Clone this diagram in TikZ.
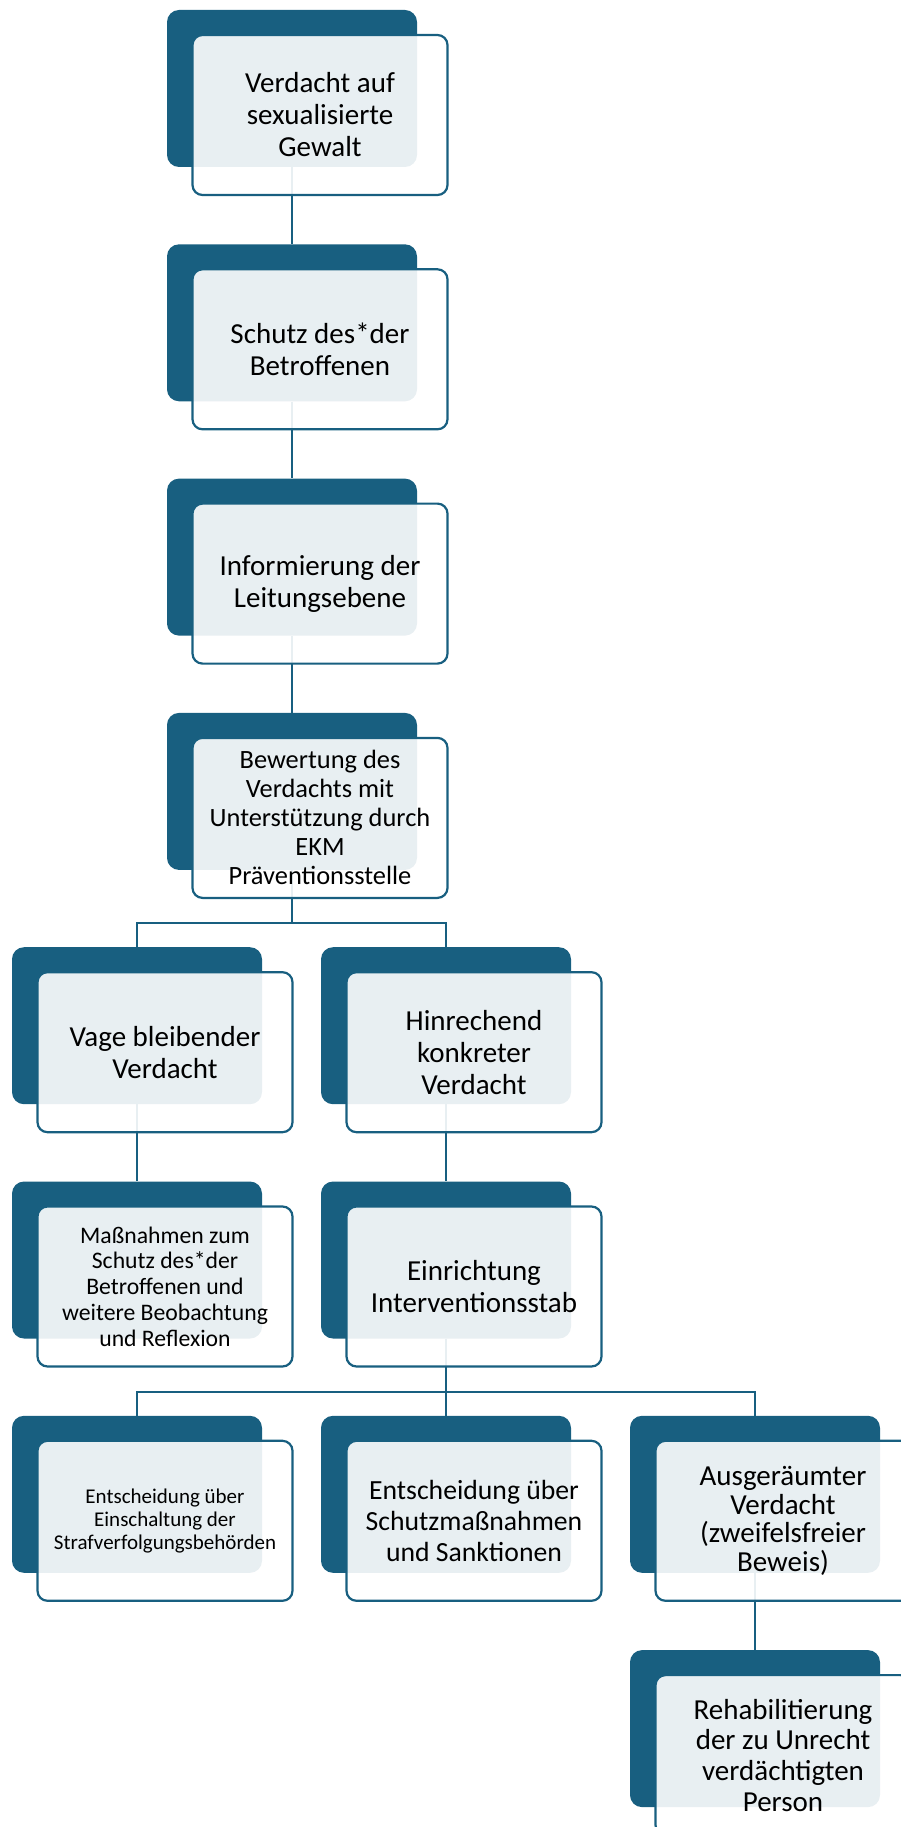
\documentclass[tikz,border=0pt]{standalone}
\usepackage{fontspec}
\setmainfont{Carlito}
\usetikzlibrary{calc,backgrounds}
\definecolor{ekmblue}{RGB}{24,95,128}

\begin{document}
\begin{tikzpicture}[x=1pt, y=-1pt,
    back/.style={rectangle, rounded corners=12pt, fill=ekmblue, inner sep=0pt,
      minimum width=250pt, minimum height=157pt},
    front/.style={rectangle, rounded corners=10pt, draw=ekmblue, line width=2.2pt,
      fill=white, fill opacity=0.9, text opacity=1, inner sep=0pt,
      minimum width=255pt, minimum height=160pt, align=center,
      font=\fontsize{29}{32}\selectfont},
    link/.style={draw=ekmblue, line width=2pt}]
  \useasboundingbox (0,0) rectangle (900,1827);

  % Hauptstrang
  \node[back] (verdacht) at (292,88.5) {};
  \node[front] (verdachtT) at ([shift={(28,26.5)}]verdacht.center) {Verdacht auf\\sexualisierte\\Gewalt};
  \node[back] (schutz) at (292,322.8) {};
  \node[front] (schutzT) at ([shift={(28,26.5)}]schutz.center) {Schutz des*der\\Betroffenen};
  \node[back] (info) at (292,557.1) {};
  \node[front] (infoT) at ([shift={(28,26.5)}]info.center) {Informierung der\\Leitungsebene};
  \node[back] (bewertung) at (292,791.4) {};
  \node[front, font=\fontsize{26.4}{29}\selectfont] (bewertungT) at ([shift={(28,26.5)}]bewertung.center)
    {Bewertung des\\Verdachts mit\\Unterstützung durch\\EKM\\Präventionsstelle};

  % vager Verdacht
  \node[back] (vage) at (137,1025.7) {};
  \node[front] (vageT) at ([shift={(28,26.5)}]vage.center) {Vage bleibender\\Verdacht};
  \node[back] (massnahmen) at (137,1260) {};
  \node[front, font=\fontsize{23.7}{25.7}\selectfont] (massnahmenT) at ([shift={(28,26.5)}]massnahmen.center)
    {Maßnahmen zum\\Schutz des*der\\Betroffenen und\\weitere Beobachtung\\und Reflexion};

  % konkreter Verdacht
  \node[back] (konkret) at (446,1025.7) {};
  \node[front] (konkretT) at ([shift={(28,26.5)}]konkret.center) {Hinrechend\\konkreter\\Verdacht};
  \node[back] (stab) at (446,1260) {};
  \node[front] (stabT) at ([shift={(28,26.5)}]stab.center) {Einrichtung\\Interventionsstab};

  % Entscheidungen
  \node[back] (strafv) at (137,1494.3) {};
  \node[front, font=\fontsize{21}{23.3}\selectfont] (strafvT) at ([shift={(28,26.5)}]strafv.center)
    {Entscheidung über\\Einschaltung der\\Strafverfolgungsbehörden};
  \node[back] (sanktion) at (446,1494.3) {};
  \node[front, font=\fontsize{27.7}{31}\selectfont] (sanktionT) at ([shift={(28,26.5)}]sanktion.center)
    {Entscheidung über\\Schutzmaßnahmen\\und Sanktionen};
  \node[back] (ausgeraeumt) at (755,1494.3) {};
  \node[front, font=\fontsize{29}{28.5}\selectfont] (ausgeraeumtT) at ([shift={(28,26.5)}]ausgeraeumt.center)
    {Ausgeräumter\\Verdacht\\(zweifelsfreier\\Beweis)};
  \node[back] (reha) at (755,1728.6) {};
  \node[front, font=\fontsize{29}{30.7}\selectfont] (rehaT) at ([shift={(28,26.5)}]reha.center)
    {Rehabilitierung\\der zu Unrecht\\verdächtigten\\Person};

  % Verbindungen
  \begin{scope}[on background layer]
    \draw[link] (verdacht.south) -- (schutz.north);
    \draw[link] (schutz.south) -- (info.north);
    \draw[link] (info.south) -- (bewertung.north);
    \coordinate (gabelA) at ($(bewertungT.south)!0.5!(vage.north)$);
    \draw[link] (bewertung.south) -- (bewertung.south |- gabelA);
    \draw[link] (vage.north) |- (gabelA) -| (konkret.north);
    \draw[link] (vage.south) -- (massnahmen.north);
    \draw[link] (konkret.south) -- (stab.north);
    \coordinate (gabelB) at ($(stabT.south)!0.5!(sanktion.north)$);
    \draw[link] (stab.south) -- (sanktion.north);
    \draw[link] (strafv.north) |- (gabelB) -| (ausgeraeumt.north);
    \draw[link] (ausgeraeumt.south) -- (reha.north);
  \end{scope}
\end{tikzpicture}
\end{document}
